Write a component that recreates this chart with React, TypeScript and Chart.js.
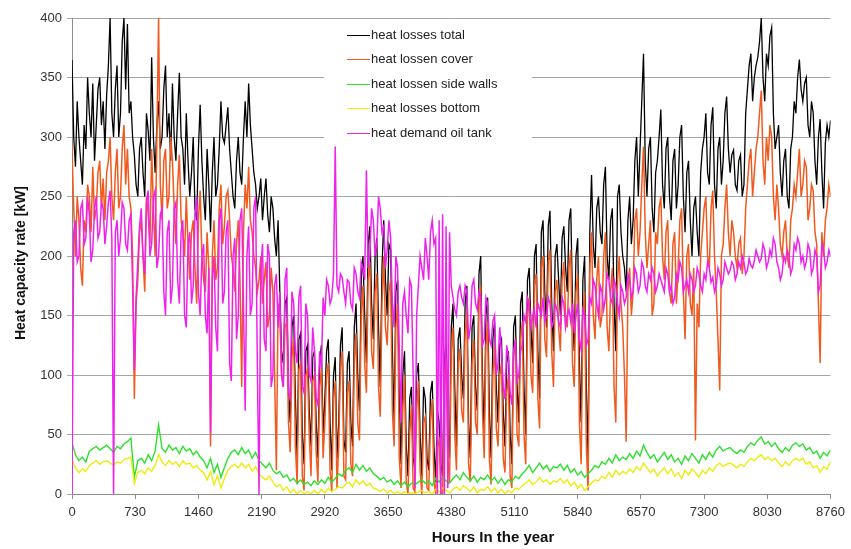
import React, { useEffect, useRef } from "react";
import { Chart, registerables } from "chart.js";

Chart.register(...registerables);

// hours of the year: main series sampled every 20 h, wall/bottom series every 40 h
const hoursFine: number[] = Array.from({ length: 439 }, (_, i) => i * 20);
const hoursCoarse: number[] = Array.from({ length: 220 }, (_, i) => i * 40);

const xTicks = [0, 730, 1460, 2190, 2920, 3650, 4380, 5110, 5840, 6570, 7300, 8030, 8760];

const seriesLabels = [
  "heat losses total",
  "heat lossen cover",
  "heat lossen side walls",
  "heat losses bottom",
  "heat demand oil tank",
];

const lossesTotal: number[] = [
  365, 300, 275, 330, 300, 280, 260, 310, 290, 350, 320, 300, 345, 280, 310, 340, 350, 310, 330, 290,
  335, 360, 400, 320, 300, 340, 360, 300, 320, 380, 400, 340, 395, 320, 330, 300, 285, 260, 250, 290,
  300, 270, 250, 320, 305, 280, 367, 300, 270, 310, 330, 290, 300, 340, 360, 300, 320, 280, 345, 300,
  280, 320, 354, 300, 290, 260, 320, 280, 250, 270, 300, 240, 230, 290, 327, 280, 250, 230, 290, 260,
  220, 270, 300, 250, 260, 290, 330, 300, 295, 310, 325, 290, 270, 250, 240, 280, 300, 270, 260, 300,
  330, 300, 345, 310, 290, 270, 260, 240, 250, 265, 230, 250, 265, 235, 220, 250, 240, 215, 200, 230,
  170, 120, 110, 160, 165, 90, 60, 140, 150, 80, 30, 130, 135, 50, 25, 120, 125, 70, 40, 115,
  120, 60, 30, 110, 125, 50, 80, 120, 130, 60, 20, 100, 115, 30, 60, 125, 140, 45, 35, 110,
  120, 60, 40, 140, 160, 100, 70, 180, 200, 150, 110, 210, 225, 160, 130, 200, 215, 140, 90, 190,
  230, 180, 150, 210, 205, 120, 60, 170, 180, 80, 25, 100, 120, 40, 15, 80, 90, 30, 20, 100,
  110, 50, 15, 90, 80, 30, 20, 85, 95, 40, 10, 70, 60, 25, 15, 110, 130, 60, 30, 140,
  160, 90, 40, 130, 140, 100, 80, 160, 175, 60, 30, 140, 150, 90, 70, 185, 200, 100, 50, 150,
  165, 70, 30, 130, 145, 90, 60, 125, 130, 70, 40, 110, 120, 50, 25, 140, 150, 90, 60, 160,
  170, 90, 50, 180, 190, 140, 110, 200, 210, 120, 80, 220, 230, 170, 140, 225, 238, 160, 120, 200,
  210, 180, 150, 215, 225, 190, 170, 230, 240, 160, 120, 200, 215, 110, 60, 180, 200, 90, 30, 220,
  268, 210, 190, 240, 250, 220, 210, 260, 275, 200, 180, 230, 240, 160, 120, 250, 260, 220, 200, 190,
  170, 230, 250, 210, 230, 280, 300, 250, 290, 330, 370, 280, 250, 290, 300, 240, 220, 270, 280, 300,
  323, 260, 240, 290, 300, 250, 230, 280, 290, 240, 260, 300, 310, 250, 220, 270, 280, 230, 200, 240,
  250, 220, 200, 270, 290, 300, 320, 270, 260, 310, 325, 260, 240, 290, 300, 260, 280, 320, 334, 290,
  270, 285, 289, 260, 255, 280, 285, 250, 260, 320, 340, 360, 370, 330, 350, 360, 367, 380, 400, 350,
  330, 370, 360, 385, 392, 320, 290, 300, 310, 270, 250, 280, 290, 250, 240, 290, 300, 330, 320, 350,
  365, 340, 330, 345, 350, 310, 300, 330, 320, 280, 260, 300, 315, 270, 240, 295, 310, 300, 314,
];

const lossesCover: number[] = [
  290, 240, 200, 250, 230, 190, 175, 230, 220, 260, 250, 220, 275, 230, 240, 270, 280, 240, 265, 230,
  270, 280, 300, 250, 230, 270, 290, 240, 250, 290, 310, 260, 290, 250, 240, 200, 80, 160, 180, 220,
  230, 200, 170, 250, 235, 210, 290, 240, 200, 300, 400, 260, 230, 280, 290, 240, 250, 300, 280, 240,
  210, 260, 285, 230, 220, 200, 250, 210, 180, 220, 230, 190, 160, 230, 255, 200, 180, 170, 220, 190,
  40, 200, 230, 180, 190, 240, 260, 210, 225, 250, 255, 230, 200, 190, 170, 210, 230, 180, 90, 220,
  260, 240, 275, 230, 220, 200, 190, 170, 180, 200, 160, 180, 195, 140, 150, 190, 170, 100, 20, 160,
  150, 100, 90, 140, 145, 60, 35, 115, 130, 40, 8, 105, 110, 15, 3, 100, 105, 50, 15, 95,
  100, 35, 10, 90, 105, 30, 60, 100, 110, 20, 2, 80, 95, 5, 40, 105, 120, 15, 12, 85,
  95, 25, 15, 110, 135, 60, 45, 150, 175, 110, 85, 180, 195, 120, 105, 170, 185, 90, 65, 160,
  200, 140, 125, 170, 180, 70, 40, 140, 160, 30, 5, 70, 100, 10, 0, 50, 75, 5, 2, 70,
  95, 20, 0, 60, 65, 5, 3, 60, 80, 10, 0, 40, 45, 0, 0, 90, 115, 30, 10, 120,
  140, 50, 20, 110, 122, 70, 60, 135, 155, 25, 10, 110, 130, 60, 50, 160, 175, 70, 30, 125,
  145, 30, 8, 100, 125, 55, 40, 100, 110, 30, 18, 85, 100, 15, 5, 115, 130, 50, 40, 130,
  145, 50, 25, 150, 165, 100, 85, 175, 185, 80, 55, 190, 200, 130, 115, 195, 205, 120, 90, 170,
  180, 140, 120, 180, 195, 150, 140, 190, 205, 110, 90, 170, 185, 60, 25, 150, 170, 40, 3, 190,
  220, 150, 130, 180, 200, 140, 150, 200, 220, 140, 120, 170, 190, 90, 60, 180, 200, 160, 140, 100,
  44, 170, 190, 150, 170, 230, 240, 200, 220, 260, 292, 220, 190, 210, 230, 150, 160, 220, 210, 240,
  250, 200, 180, 220, 230, 170, 160, 210, 220, 160, 190, 230, 240, 170, 130, 200, 210, 160, 150, 190,
  45, 160, 140, 200, 220, 240, 250, 200, 190, 240, 255, 200, 170, 130, 87, 200, 210, 240, 260, 220,
  200, 230, 220, 200, 190, 210, 215, 185, 200, 240, 260, 280, 290, 250, 270, 290, 300, 320, 339, 280,
  260, 300, 280, 310, 300, 250, 230, 260, 240, 210, 200, 220, 230, 200, 190, 230, 240, 260, 250, 270,
  290, 250, 260, 280, 275, 230, 240, 260, 255, 220, 210, 160, 110, 220, 200, 230, 240, 260, 250,
];

const lossesSideWalls: number[] = [
  43, 33, 28, 31, 27, 36, 38, 40, 37, 39,
  41, 38, 35, 40, 38, 42, 44, 47, 14, 28,
  30, 26, 33, 28, 36, 58, 38, 35, 41, 37,
  39, 34, 40, 36, 38, 33, 36, 31, 28, 22,
  30, 18, 25, 14, 22, 30, 35, 37, 33, 39,
  34, 37, 30, 35, 28, 25, 22, 26, 20, 17,
  19, 14, 16, 11, 13, 9, 12, 8, 10, 7,
  11, 8, 12, 9, 14, 10, 13, 17, 15, 20,
  22, 18, 25, 20, 24, 19, 22, 17, 15, 12,
  14, 10, 12, 8, 11, 7, 10, 6, 9, 8,
  10, 12, 9, 11, 7, 13, 10, 14, 11, 9,
  13, 16, 12, 18, 14, 11, 15, 10, 14, 12,
  16, 11, 14, 9, 13, 8, 12, 10, 15, 13,
  17, 20, 24, 18, 22, 26, 21, 24, 19, 23,
  22, 25, 20, 24, 18, 21, 16, 19, 14, 17,
  20, 24, 22, 27, 25, 30, 26, 33, 28, 31,
  29, 34, 30, 36, 32, 41, 35, 30, 33, 27,
  31, 35, 29, 33, 27, 30, 25, 32, 28, 34,
  30, 26, 33, 29, 35, 31, 37, 40, 36, 38,
  39, 36, 34, 37, 35, 40, 43, 41, 45, 48,
  42, 44, 40, 43, 38, 35, 39, 36, 41, 43,
  40, 42, 37, 39, 34, 36, 30, 35, 32, 37,
];

const lossesBottom: number[] = [
  29, 22, 18, 21, 19, 24, 26, 28, 25, 27,
  28, 26, 24, 27, 26, 29, 30, 31, 9, 18,
  20, 17, 22, 19, 24, 33, 27, 24, 28, 25,
  27, 23, 28, 25, 26, 22, 24, 20, 18, 12,
  19, 8, 15, 5, 13, 20, 23, 25, 22, 26,
  22, 25, 19, 23, 17, 14, 12, 15, 10, 6,
  8, 3, 6, 1, 4, 0, 3, 0, 2, 0,
  3, 0, 4, 1, 5, 2, 4, 6, 5, 8,
  10, 6, 12, 8, 11, 7, 9, 5, 4, 2,
  4, 1, 3, 0, 2, 0, 2, 0, 1, 0,
  2, 3, 1, 2, 0, 4, 2, 5, 3, 1,
  4, 6, 3, 7, 5, 2, 6, 1, 4, 3,
  6, 2, 5, 1, 4, 0, 3, 1, 5, 4,
  7, 9, 12, 8, 10, 14, 10, 12, 8, 11,
  10, 13, 9, 12, 7, 10, 5, 8, 3, 6,
  9, 12, 11, 15, 13, 18, 14, 20, 16, 19,
  17, 21, 18, 23, 20, 26, 22, 18, 21, 15,
  19, 22, 17, 21, 15, 18, 13, 20, 16, 21,
  18, 14, 20, 17, 22, 19, 24, 26, 23, 25,
  26, 24, 22, 25, 23, 27, 30, 28, 31, 33,
  29, 31, 28, 30, 26, 23, 27, 24, 28, 30,
  28, 30, 25, 27, 22, 24, 18, 23, 21, 27,
];

const demandOilTank: number[] = [
  0, 220, 230, 195, 200, 240, 245, 210, 215, 250, 235, 195, 205, 240, 250, 215, 220, 245, 240, 210,
  225, 245, 255, 215, 0, 220, 230, 200, 215, 245, 240, 210, 205, 230, 235, 175, 104, 165, 195, 225,
  240, 200, 185, 245, 255, 200, 210, 250, 255, 190, 200, 235, 240, 170, 150, 220, 230, 160, 175, 240,
  245, 180, 160, 220, 230, 150, 140, 210, 220, 160, 175, 235, 250, 170, 150, 200, 210, 150, 135, 190,
  51, 180, 200, 140, 120, 230, 240, 160, 170, 220, 230, 110, 95, 200, 215, 130, 150, 230, 240, 160,
  70, 200, 225, 150, 160, 240, 250, 110, 0, 190, 210, 130, 120, 210, 200, 90, 100, 175, 185, 140,
  170, 100, 90, 180, 190, 85, 80, 170, 160, 120, 110, 165, 175, 90, 85, 160, 150, 100, 95, 140,
  120, 80, 75, 120, 105, 165, 150, 180, 175, 160, 165, 185, 292, 175, 170, 185, 182, 170, 160, 180,
  178, 160, 155, 190, 185, 170, 165, 195, 190, 180, 272, 190, 200, 240, 230, 200, 210, 250, 240, 220,
  225, 190, 205, 230, 215, 160, 140, 200, 190, 120, 60, 160, 170, 150, 135, 180, 175, 100, 5, 150,
  175, 200, 190, 180, 215, 200, 180, 220, 230, 210, 215, 0, 230, 0, 235, 0, 225, 5, 220, 175,
  165, 155, 150, 170, 175, 165, 160, 175, 170, 130, 140, 175, 180, 160, 155, 170, 165, 125, 130, 165,
  160, 130, 125, 145, 150, 100, 110, 140, 120, 90, 80, 125, 115, 85, 75, 120, 130, 95, 100, 120,
  125, 150, 145, 165, 160, 140, 150, 155, 140, 160, 155, 150, 165, 145, 150, 165, 160, 140, 145, 160,
  155, 145, 140, 165, 160, 140, 150, 155, 145, 160, 135, 150, 160, 130, 121, 155, 150, 125, 130, 165,
  160, 180, 175, 160, 150, 175, 170, 155, 165, 185, 180, 165, 160, 180, 175, 160, 150, 175, 170, 160,
  165, 185, 180, 165, 170, 190, 185, 170, 175, 195, 190, 175, 170, 185, 180, 190, 185, 170, 175, 185,
  180, 175, 170, 190, 185, 170, 175, 160, 165, 185, 180, 195, 190, 170, 175, 180, 170, 185, 180, 170,
  175, 190, 185, 175, 170, 185, 180, 195, 190, 178, 182, 170, 175, 190, 185, 175, 180, 195, 190, 185,
  188, 195, 192, 180, 185, 195, 190, 200, 195, 185, 188, 198, 192, 190, 196, 205, 200, 195, 198, 210,
  205, 190, 195, 205, 200, 215, 210, 195, 190, 180, 185, 200, 195, 205, 200, 185, 190, 210, 205, 215,
  210, 195, 200, 190, 195, 210, 205, 185, 190, 205, 200, 170, 175, 210, 205, 190, 195, 205, 200,
];

const seriesValues = [lossesTotal, lossesCover, lossesSideWalls, lossesBottom, demandOilTank];
const seriesHours = [hoursFine, hoursFine, hoursCoarse, hoursCoarse, hoursFine];
const seriesColors = ["#000000", "#f05a1e", "#2ee02e", "#ecec10", "#ee22ee"];
const seriesWidths = [1.3, 1.5, 1.4, 1.4, 1.5];
const seriesOrder = [5, 4, 3, 2, 1];

const FONT = "'Liberation Sans', Arial, sans-serif";

const overlayPlugin = {
  id: "overlay",
  afterDatasetsDraw(chart: any) {
    const ctx = chart.ctx as CanvasRenderingContext2D;
    ctx.save();
    // legend box
    ctx.fillStyle = "#ffffff";
    ctx.fillRect(324, 21, 208, 124);
    const rowY = [35, 59, 84, 108, 133];
    ctx.font = `13px ${FONT}`;
    ctx.textBaseline = "middle";
    ctx.textAlign = "left";
    chart.data.datasets.forEach((ds: any, i: number) => {
      ctx.strokeStyle = ds.borderColor;
      ctx.lineWidth = 1;
      ctx.beginPath();
      ctx.moveTo(347, rowY[i] + 0.5);
      ctx.lineTo(370, rowY[i] + 0.5);
      ctx.stroke();
      ctx.fillStyle = "#222222";
      ctx.fillText(ds.label, 371, rowY[i]);
    });
    ctx.restore();
  },
  afterDraw(chart: any) {
    const ctx = chart.ctx as CanvasRenderingContext2D;
    ctx.save();
    ctx.fillStyle = "#111111";
    ctx.font = `bold 15px ${FONT}`;
    ctx.textAlign = "center";
    ctx.textBaseline = "middle";
    ctx.fillText("Hours In the year", 493, 538);
    ctx.translate(21, 263);
    ctx.rotate(-Math.PI / 2);
    ctx.font = `bold 14px ${FONT}`;
    ctx.fillText("Heat capacity rate [kW]", 0, 0);
    ctx.restore();
  },
};

export default function App() {
  const canvasRef = useRef<HTMLCanvasElement | null>(null);

  useEffect(() => {
    if (!canvasRef.current) return;
    const datasets = seriesLabels.map((label, s) => ({
      label,
      data: seriesHours[s].map((h, i) => ({ x: h, y: seriesValues[s][i] })),
      borderColor: seriesColors[s],
      backgroundColor: seriesColors[s],
      borderWidth: seriesWidths[s],
      pointRadius: 0,
      tension: 0,
      fill: false,
      order: seriesOrder[s],
    }));
    const chart = new Chart(canvasRef.current, {
      type: "line",
      data: { datasets },
      options: {
        responsive: false,
        animation: false,
        layout: { padding: { left: 0, top: 18, right: 15, bottom: 0 } },
        plugins: {
          legend: { display: false },
          tooltip: { enabled: false },
        },
        scales: {
          x: {
            type: "linear",
            min: 0,
            max: 8760,
            afterBuildTicks: (scale: any) => {
              scale.ticks = xTicks.map((v) => ({ value: v }));
            },
            afterFit: (scale: any) => {
              scale.height = 55;
            },
            ticks: {
              font: { family: FONT, size: 13 },
              color: "#333333",
              padding: 6,
              maxRotation: 0,
              autoSkip: false,
              callback: (v: any) => String(v),
            },
            grid: { drawOnChartArea: false, drawTicks: true, tickLength: 5, color: "#8c8c8c" },
            border: { color: "#8c8c8c" },
          },
          y: {
            min: 0,
            max: 400,
            afterFit: (scale: any) => {
              scale.width = 72;
            },
            ticks: {
              stepSize: 50,
              font: { family: FONT, size: 13 },
              color: "#333333",
              padding: 5,
              callback: (v: any) => String(v),
            },
            grid: { color: "#a6a6a6", tickLength: 5 },
            border: { color: "#8c8c8c" },
          },
        },
      },
      plugins: [overlayPlugin],
    });
    return () => chart.destroy();
  }, []);

  return (
    <div style={{ position: "fixed", left: 0, top: 0, width: 851, height: 549, background: "#fff" }}>
      <canvas ref={canvasRef} width={851} height={549} style={{ display: "block" }} />
    </div>
  );
}
